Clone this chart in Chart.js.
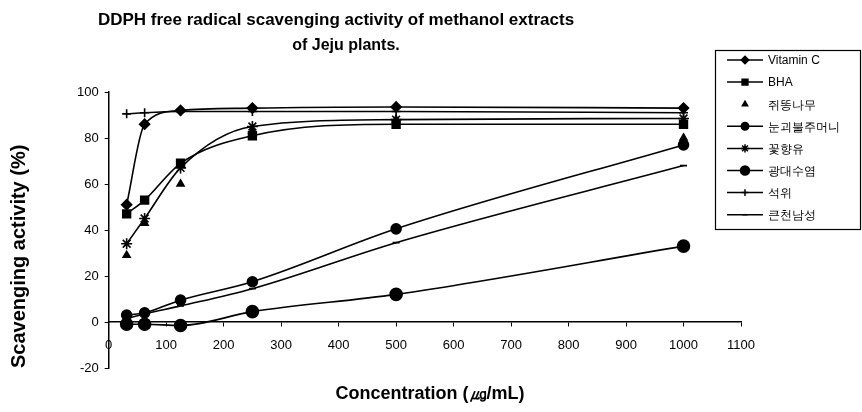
<!DOCTYPE html>
<html>
<head>
<meta charset="utf-8">
<script src="https://cdn.jsdelivr.net/npm/chart.js@4"></script>
<style>
  body { margin: 0; background: #fff; }
  #wrap { width: 862px; height: 412px; }
</style>
</head>
<body>
<div id="wrap"><canvas id="dpphChart"></canvas></div>
<script>
// concentratie (ug/mL) en scavenging activity (%) per extract
var concentrations = [31.25, 62.5, 125, 250, 500, 1000];
var seriesNames = ['Vitamin C', 'BHA', '쥐똥나무', '눈괴불주머니', '꽃향유', '광대수염', '석위', '큰천남성'];
var vitaminC = [51, 86, 92, 93, 93.5, 93];
var bha = [47, 53, 69, 81, 86, 86];
var jwittong = [29, 43, 60, 83, 88, 80];
var nungoebul = [3, 4, 9.5, 17.5, 40.5, 77];
var kkothyangyu = [34, 45, 67, 85, 88, 88.5];
var gwangdae = [-1, -1, -1.5, 4.5, 12, 33];
var seogwi = [90.5, 91, 91.5, 91.5, 91.5, 91];
var keuncheonnam = [1.5, 3.5, 7, 14.5, 34.5, 68];
var xTicks = [0, 100, 200, 300, 400, 500, 600, 700, 800, 900, 1000, 1100];
var yTicks = [-20, 0, 20, 40, 60, 80, 100];

function toPoints(values) {
    return values.map(function (v, i) { return { x: concentrations[i], y: v }; });
}

// marker per reeks: [pointStyle, radius, lijn tonen]
var markers = [
    ['rectRot', 5, true],
    ['rect', 5.5, true],
    ['triangle', 4, false],
    ['circle', 5, true],
    ['star', 5.5, true],
    ['circle', 6, true],
    ['cross', 4.5, true],
    ['line', 3.5, true]
];
var allValues = [vitaminC, bha, jwittong, nungoebul, kkothyangyu, gwangdae, seogwi, keuncheonnam];

var datasets = allValues.map(function (vals, i) {
    return {
        label: seriesNames[i],
        data: toPoints(vals),
        borderColor: '#000',
        backgroundColor: '#000',
        borderWidth: 1.6,
        pointStyle: markers[i][0],
        pointRadius: markers[i][1],
        pointBorderWidth: 1.6,
        showLine: markers[i][2],
        cubicInterpolationMode: 'monotone'
    };
});

var fontFam = '"Liberation Sans", Arial, sans-serif';

// eigen titels en legenda met kader
var extras = {
    id: 'extras',
    afterDraw: function (chart) {
        var ctx = chart.ctx;
        ctx.save();
        ctx.fillStyle = '#000';
        ctx.textAlign = 'center';
        ctx.textBaseline = 'middle';
        ctx.font = 'bold 17px ' + fontFam;
        ctx.fillText('DDPH free radical scavenging activity of methanol extracts', 336, 20);
        ctx.font = 'bold 16px ' + fontFam;
        ctx.fillText('of Jeju plants.', 346, 46);

        // x-as titel los getekend omdat de as op y=0 ligt
        ctx.font = 'bold 18px ' + fontFam;
        ctx.fillText('Concentration (㎍/mL)', 430, 394);

        // legenda
        ctx.strokeStyle = '#000';
        ctx.lineWidth = 1.2;
        ctx.strokeRect(715.5, 50.5, 145, 179);
        ctx.textAlign = 'left';
        ctx.font = '12px ' + fontFam;
        chart.data.datasets.forEach(function (ds, i) {
            var y = 60 + i * 22.1;
            if (ds.showLine) {
                ctx.beginPath();
                ctx.moveTo(727, y);
                ctx.lineTo(763, y);
                ctx.lineWidth = 1.5;
                ctx.stroke();
            }
            Chart.helpers.drawPoint(ctx, {
                pointStyle: ds.pointStyle,
                radius: ds.pointRadius * 0.75,
                borderWidth: 1.4,
                rotation: 0
            }, 745, y);
            ctx.fill();
            ctx.fillText(ds.label, 768, y + 1);
        });
        ctx.restore();
    }
};

var tickFont = { size: 13, family: fontFam };

var ctx = document.getElementById('dpphChart').getContext('2d');
var chart = new Chart(ctx, {
    type: 'scatter',
    data: { datasets: datasets },
    options: {
        responsive: true,
        maintainAspectRatio: false,
        animation: false,
        layout: { padding: { top: 92, right: 121, bottom: 44, left: 7 } },
        plugins: {
            legend: { display: false },
            tooltip: { enabled: false }
        },
        scales: {
            x: {
                type: 'linear',
                position: { y: 0 },
                min: 0,
                max: 1100,
                afterBuildTicks: function (axis) {
                    axis.ticks = xTicks.map(function (v) { return { value: v }; });
                },
                grid: { drawOnChartArea: false, drawTicks: true, tickLength: 4, color: '#000' },
                border: { color: '#000', width: 1.5 },
                ticks: {
                    color: '#000',
                    font: tickFont,
                    maxRotation: 0,
                    padding: 12,
                    callback: function (v) { return String(v); }
                }
            },
            y: {
                type: 'linear',
                position: 'left',
                min: -20,
                max: 100,
                afterBuildTicks: function (axis) {
                    axis.ticks = yTicks.map(function (v) { return { value: v }; });
                },
                grid: { drawOnChartArea: false, drawTicks: true, tickLength: 4, color: '#000' },
                border: { color: '#000', width: 1.5 },
                ticks: {
                    color: '#000',
                    font: tickFont,
                    padding: 6,
                    callback: function (v) { return String(v); }
                },
                title: {
                    display: true,
                    align: 'start',
                    text: 'Scavenging activity (%)',
                    color: '#000',
                    font: { size: 20, weight: 'bold', family: fontFam },
                    padding: { top: 0, bottom: 40 }
                }
            }
        }
    },
    plugins: [extras]
});
</script>
</body>
</html>
